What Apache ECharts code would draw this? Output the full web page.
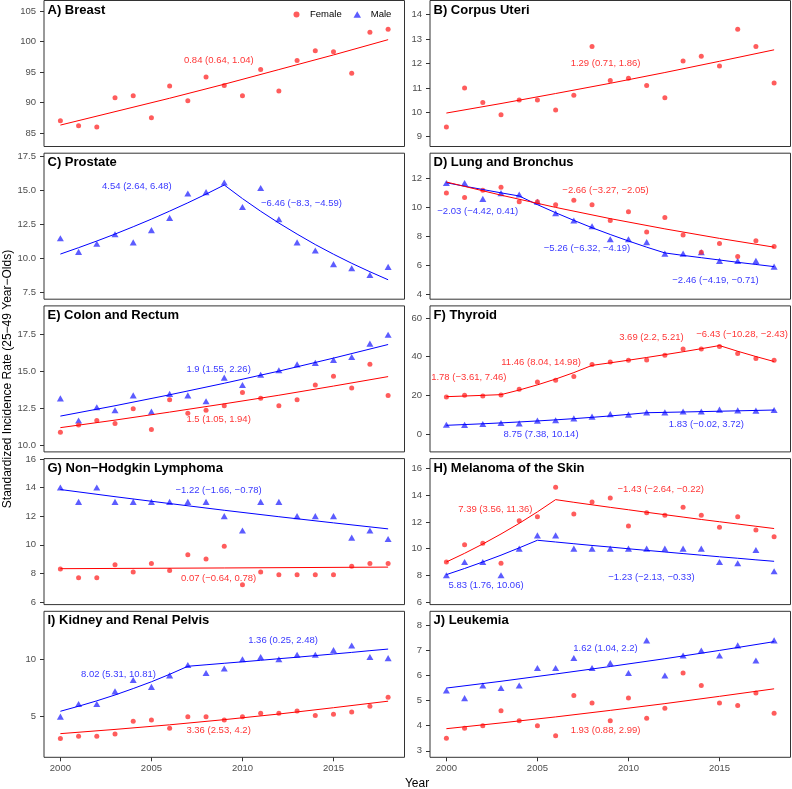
<!DOCTYPE html>
<html>
<head>
<meta charset="utf-8">
<script src="https://cdn.jsdelivr.net/npm/echarts@6/dist/echarts.min.js"></script>
<style>html,body{margin:0;padding:0;background:#fff}#c{width:792px;height:789px}</style>
</head>
<body>
<div id="c"></div>
<script>
// ---------- data ----------
const years = [2000,2001,2002,2003,2004,2005,2006,2007,2008,2009,2010,2011,2012,2013,2014,2015,2016,2017,2018];
const xTicks = [2000,2005,2010,2015];

const breastF   = [87.0,86.2,86.0,90.8,91.1,87.5,92.7,90.3,94.2,92.8,91.1,95.4,91.9,96.9,98.5,98.3,94.8,101.5,102.0];
const uteriF    = [9.4,11.0,10.4,9.9,10.5,10.5,10.1,10.7,12.7,11.3,11.4,11.1,10.6,12.1,12.3,11.9,13.4,12.7,11.2];
const prostateM = [11.5,10.5,11.1,11.8,11.2,12.1,13.0,14.8,14.9,15.6,13.8,15.2,12.9,11.2,10.6,9.6,9.3,8.8,9.4];
const lungF     = [11.0,10.7,11.2,11.4,10.4,10.4,10.2,10.5,10.2,9.1,9.7,8.3,9.3,8.1,6.9,7.5,6.6,7.7,7.3];
const lungM     = [11.7,11.7,10.6,11.0,10.9,10.4,9.6,9.1,8.7,7.8,7.8,7.6,6.8,6.8,6.9,6.3,6.3,6.3,5.9];
const colonF    = [10.9,11.4,11.7,11.5,12.5,11.1,13.1,12.2,12.4,12.7,13.6,13.2,12.7,13.1,14.1,14.7,13.9,15.5,13.4];
const colonM    = [13.2,11.7,12.6,12.4,13.4,12.3,13.5,13.4,13.0,14.6,14.1,14.8,15.1,15.5,15.6,15.8,16.0,16.9,17.5];
const thyroidF  = [19.1,20.0,19.7,20.2,23.1,26.9,27.8,29.8,35.9,37.2,38.1,38.3,40.7,44.0,44.0,45.3,41.7,39.0,38.1];
const thyroidM  = [4.8,4.7,5.2,5.7,5.5,6.9,7.1,8.1,9.0,10.3,10.0,11.2,11.2,11.6,11.6,12.6,12.2,12.1,12.4];
const nhlF      = [8.3,7.7,7.7,8.6,8.1,8.7,8.2,9.3,9.0,9.9,7.2,8.1,7.9,7.9,7.9,7.9,8.5,8.7,8.7];
const nhlM      = [14.0,13.0,14.0,13.0,13.0,13.0,13.0,13.0,13.0,12.0,11.0,13.0,13.0,12.0,12.0,12.0,10.5,11.0,10.4];
const melF      = [9.0,10.3,10.4,8.9,12.1,12.4,14.6,12.6,13.5,13.8,11.7,12.7,12.5,13.1,12.5,11.6,12.4,11.4,10.9];
const melM      = [8.0,9.0,9.0,8.0,10.0,11.0,11.0,10.0,10.0,10.0,10.0,10.0,10.0,10.0,10.0,9.0,8.9,9.9,8.3];
const kidneyF   = [3.1,3.3,3.3,3.5,4.6,4.7,4.0,5.0,5.0,4.7,5.0,5.3,5.3,5.5,5.1,5.2,5.4,5.9,6.7];
const kidneyM   = [5.0,6.1,6.1,7.2,8.2,7.6,8.6,9.5,8.8,9.2,10.0,10.2,10.0,10.4,10.4,10.8,11.2,10.2,10.1];
const leukF     = [3.5,3.9,4.0,4.6,4.2,4.0,3.6,5.2,4.9,4.2,5.1,4.3,4.7,6.1,5.6,4.9,4.8,5.3,4.5];
const leukM     = [5.4,5.1,5.6,5.5,5.6,6.3,6.3,6.7,6.3,6.5,6.1,7.4,6.0,6.8,7.0,6.8,7.2,6.6,7.4];

// fitted joinpoint lines ([year, value] pairs or one value per year)
const breastFitF   = [[2000,86.3],[2003,88.5],[2006,90.7],[2009,93.0],[2012,95.4],[2015,97.8],[2018,100.3]];
const uteriFitF    = [[2000,9.97],[2003,10.36],[2006,10.77],[2009,11.19],[2012,11.63],[2015,12.09],[2018,12.56]];
const prostateFitM = [10.34,10.81,11.30,11.81,12.35,12.91,13.50,14.11,14.75,15.42,14.42,13.49,12.62,11.81,11.04,10.33,9.66,9.04,8.45];
const lungFitF     = [[2000,11.77],[2003,10.86],[2006,10.01],[2009,9.23],[2012,8.52],[2015,7.86],[2018,7.25]];
const lungFitM     = [11.72,11.48,11.25,11.02,10.80,10.20,9.64,9.11,8.60,8.13,7.68,7.25,6.85,6.68,6.52,6.36,6.20,6.05,5.90];
const colonFitF    = [[2000,11.22],[2003,11.73],[2006,12.27],[2009,12.83],[2012,13.41],[2015,14.03],[2018,14.67]];
const colonFitM    = [[2000,12.0],[2003,12.70],[2006,13.44],[2009,14.22],[2012,15.04],[2015,15.92],[2018,16.84]];
const thyroidFitF  = [19.3,19.64,19.99,20.35,22.75,25.42,28.42,31.76,35.5,36.81,38.17,39.58,41.04,42.55,44.12,45.75,42.81,40.06,37.48];
const thyroidFitM  = [4.5,4.88,5.29,5.74,6.23,6.75,7.32,7.94,8.62,9.35,10.14,11.0,11.19,11.38,11.58,11.78,11.98,12.19,12.4];
const nhlFitF      = [[2000,8.33],[2009,8.38],[2018,8.44]];
const nhlFitM      = [[2000,13.86],[2003,13.36],[2006,12.88],[2009,12.41],[2012,11.96],[2015,11.53],[2018,11.11]];
const melFitF      = [9.0,9.65,10.35,11.10,11.90,12.76,13.68,13.48,13.29,13.10,12.92,12.73,12.55,12.37,12.19,12.02,11.85,11.68,11.51];
const melFitM      = [8.05,8.51,9.00,9.51,10.06,10.63,10.50,10.37,10.24,10.12,9.99,9.87,9.75,9.63,9.51,9.39,9.28,9.16,9.05];
const kidneyFitF   = [[2000,3.52],[2003,3.89],[2006,4.29],[2009,4.74],[2012,5.23],[2015,5.78],[2018,6.35]];
const kidneyFitM   = [5.47,5.91,6.38,6.89,7.45,8.04,8.69,9.39,9.52,9.65,9.78,9.91,10.05,10.18,10.32,10.46,10.60,10.75,10.89];
const leukFitF     = [[2000,3.88],[2003,4.11],[2006,4.35],[2009,4.61],[2012,4.88],[2015,5.17],[2018,5.47]];
const leukFitM     = [[2000,5.5],[2003,5.77],[2006,6.06],[2009,6.36],[2012,6.67],[2015,7.0],[2018,7.35]];

// APC annotations: [year, value, text, sex]
const breastNotes   = [[2008.7,96.97,'0.84 (0.64, 1.04)','F']];
const uteriNotes    = [[2008.74,12.0,'1.29 (0.71, 1.86)','F']];
const prostateNotes = [[2004.2,15.32,'4.54 (2.64, 6.48)','M'],[2013.24,14.09,'−6.46 (−8.3, −4.59)','M']];
const lungNotes     = [[2008.74,11.21,'−2.66 (−3.27, −2.05)','F'],[2001.72,9.73,'−2.03 (−4.42, 0.41)','M'],[2007.72,7.19,'−5.26 (−6.32, −4.19)','M'],[2014.78,4.97,'−2.46 (−4.19, −0.71)','M']];
const colonNotes    = [[2008.69,15.14,'1.9 (1.55, 2.26)','M'],[2008.69,11.8,'1.5 (1.05, 1.94)','F']];
const thyroidNotes  = [[2001.23,29.5,'1.78 (−3.61, 7.46)','F'],[2005.2,37.1,'11.46 (8.04, 14.98)','F'],[2011.26,50.0,'3.69 (2.2, 5.21)','F'],[2016.24,51.4,'−6.43 (−10.28, −2.43)','F'],[2005.2,0,'8.75 (7.38, 10.14)','M'],[2014.28,4.83,'1.83 (−0.02, 3.72)','M']];
const nhlNotes      = [[2008.69,13.77,'−1.22 (−1.66, −0.78)','M'],[2008.69,7.67,'0.07 (−0.64, 0.78)','F']];
const melNotes      = [[2002.69,12.98,'7.39 (3.56, 11.36)','F'],[2011.77,14.45,'−1.43 (−2.64, −0.22)','F'],[2002.18,7.25,'5.83 (1.76, 10.06)','M'],[2011.26,7.85,'−1.23 (−2.13, −0.33)','M']];
const kidneyNotes   = [[2012.23,11.63,'1.36 (0.25, 2.48)','M'],[2003.19,8.72,'8.02 (5.31, 10.81)','M'],[2008.69,3.81,'3.36 (2.53, 4.2)','F']];
const leukNotes     = [[2008.74,7.1,'1.62 (1.04, 2.2)','M'],[2008.74,3.8,'1.93 (0.88, 2.99)','F']];

// y tick labels per panel
const breastTicks = [85,90,95,100,105];
const uteriTicks = [9,10,11,12,13,14];
const prostateTicks = [7.5,10,12.5,15,17.5];
const lungTicks = [4,6,8,10,12];
const colonTicks = [10,12.5,15,17.5];
const thyroidTicks = [0,20,40,60];
const nhlTicks = [6,8,10,12,14,16];
const melTicks = [6,8,10,12,14,16];
const kidneyTicks = [5,10];
const leukTicks = [3,4,5,6,7,8];

const titles = ['A) Breast','B) Corpus Uteri','C) Prostate','D) Lung and Bronchus','E) Colon and Rectum','F) Thyroid','G) Non−Hodgkin Lymphoma','H) Melanoma of the Skin','I) Kidney and Renal Pelvis','J) Leukemia'];

// ---------- panel table ----------
const panels = [
  {F:breastF, M:null, fitF:breastFitF, fitM:null, y:[82.79,106.72], ticks:breastTicks, dec:0, notes:breastNotes},
  {F:uteriF, M:null, fitF:uteriFitF, fitM:null, y:[8.6,14.58], ticks:uteriTicks, dec:0, notes:uteriNotes},
  {F:null, M:prostateM, fitF:null, fitM:prostateFitM, y:[7.02,17.76], ticks:prostateTicks, dec:1, notes:prostateNotes},
  {F:lungF, M:lungM, fitF:lungFitF, fitM:lungFitM, y:[3.64,13.77], ticks:lungTicks, dec:0, notes:lungNotes},
  {F:colonF, M:colonM, fitF:colonFitF, fitM:colonFitM, y:[9.58,19.45], ticks:colonTicks, dec:1, notes:colonNotes},
  {F:thyroidF, M:thyroidM, fitF:thyroidFitF, fitM:thyroidFitM, y:[-9.26,66.26], ticks:thyroidTicks, dec:0, notes:thyroidNotes},
  {F:nhlF, M:nhlM, fitF:nhlFitF, fitM:nhlFitM, y:[5.82,16.02], ticks:nhlTicks, dec:0, notes:nhlNotes},
  {F:melF, M:melM, fitF:melFitF, fitM:melFitM, y:[5.80,16.76], ticks:melTicks, dec:0, notes:melNotes},
  {F:kidneyF, M:kidneyM, fitF:kidneyFitF, fitM:kidneyFitM, y:[1.46,14.18], ticks:kidneyTicks, dec:0, notes:kidneyNotes},
  {F:leukF, M:leukM, fitF:leukFitF, fitM:leukFitM, y:[2.74,8.56], ticks:leukTicks, dec:0, notes:leukNotes}
];

// ---------- layout / style ----------
const FONT = 'Liberation Sans, Arial, Helvetica, sans-serif';
const colLeft = [44, 430];
const rowTop = [0.5, 153.2, 305.9, 458.6, 611.3];
const panelW = 360.5, panelH = 146;
const RED_PT = '#FF3333', BLUE_PT = '#3333FF', RED = '#FF0000', BLUE = '#0000FF';
const TRI = 'path://M5,0 L10,8.66 L0,8.66 Z';

const grids = [], xAxes = [], yAxes = [], series = [], titleOpts = [];
const toPairs = arr => arr.map((v, k) => Array.isArray(v) ? v : [years[k], v]);

panels.forEach((p, i) => {
  const col = i % 2, row = Math.floor(i / 2);
  const gx = colLeft[col], gy = rowTop[row];
  const bottomRow = row === 4;
  grids.push({left: gx, top: gy, width: panelW, height: panelH, show: true,
    borderColor: '#333333', borderWidth: 1, backgroundColor: 'transparent', containLabel: false});
  xAxes.push({type: 'value', gridIndex: i, min: 1999.1, max: 2018.9,
    axisLine: {show: false}, splitLine: {show: false},
    axisTick: {show: bottomRow, length: 4, lineStyle: {color: '#333333'}, customValues: xTicks},
    axisLabel: {show: bottomRow, customValues: xTicks, fontSize: 9.5, color: '#4D4D4D', margin: 6, fontFamily: FONT,
      formatter: v => String(v)}});
  yAxes.push({type: 'value', gridIndex: i, min: p.y[0], max: p.y[1],
    axisLine: {show: false}, splitLine: {show: false},
    axisTick: {show: true, length: 4, lineStyle: {color: '#333333'}, customValues: p.ticks},
    axisLabel: {show: true, customValues: p.ticks, fontSize: 9.5, color: '#4D4D4D', margin: 8, fontFamily: FONT,
      formatter: v => p.dec ? Number(v).toFixed(p.dec) : String(v)}});
  titleOpts.push({text: titles[i], left: gx + 3.5, top: gy + 3, padding: 0,
    textStyle: {fontSize: 13, fontWeight: 'bold', color: '#000', fontFamily: FONT}});

  if (p.M) series.push({name: 'Male', type: 'scatter', xAxisIndex: i, yAxisIndex: i,
    symbol: TRI, symbolSize: [7, 6.1], itemStyle: {color: BLUE_PT}, z: 2,
    data: p.M.map((v, k) => [years[k], v])});
  if (p.F) series.push({name: 'Female', type: 'scatter', xAxisIndex: i, yAxisIndex: i,
    symbol: 'circle', symbolSize: 5, itemStyle: {color: RED_PT}, z: 2,
    data: p.F.map((v, k) => [years[k], v])});
  if (p.fitM) series.push({name: 'Male fit', type: 'line', xAxisIndex: i, yAxisIndex: i,
    showSymbol: false, symbol: 'none', lineStyle: {color: BLUE, width: 1}, itemStyle: {color: BLUE}, z: 3,
    data: toPairs(p.fitM)});
  if (p.fitF) series.push({name: 'Female fit', type: 'line', xAxisIndex: i, yAxisIndex: i,
    showSymbol: false, symbol: 'none', lineStyle: {color: RED, width: 1}, itemStyle: {color: RED}, z: 4,
    data: toPairs(p.fitF)});
  series.push({name: 'notes', type: 'scatter', xAxisIndex: i, yAxisIndex: i, symbolSize: 0, silent: true, z: 5,
    clip: false,
    data: p.notes.map(n => ({value: [n[0], n[1]], name: n[2],
      label: {show: true, position: 'inside', formatter: '{b}', fontSize: 9.5, fontFamily: FONT,
        color: n[3] === 'F' ? RED : BLUE, align: 'center', verticalAlign: 'middle'}}))});
});

const chart = echarts.init(document.getElementById('c'), null, {renderer: 'canvas'});
chart.setOption({
  animation: false,
  backgroundColor: '#fff',
  title: titleOpts,
  grid: grids, xAxis: xAxes, yAxis: yAxes, series: series,
  legend: [
    {data: [{name: 'Female', icon: 'circle'}], left: 293.5, top: 9.5, padding: 0,
      itemWidth: 17, itemHeight: 6, symbolKeepAspect: true, selectedMode: false,
      textStyle: {fontSize: 9.5, color: '#000', fontFamily: FONT}},
    {data: [{name: 'Male', icon: TRI}], left: 353.5, top: 9.5, padding: 0,
      itemWidth: 17, itemHeight: 6.5, symbolKeepAspect: true, selectedMode: false,
      textStyle: {fontSize: 9.5, color: '#000', fontFamily: FONT}}
  ],
  graphic: [
    {type: 'text', x: 8, y: 379, rotation: Math.PI / 2,
      style: {text: 'Standardized Incidence Rate (25−49 Year−Olds)', fontSize: 12, fontFamily: FONT, fill: '#000',
        textAlign: 'center', textVerticalAlign: 'middle'}},
    {type: 'text', x: 417, y: 783.5,
      style: {text: 'Year', fontSize: 12, fontFamily: FONT, fill: '#000', textAlign: 'center', textVerticalAlign: 'middle'}}
  ]
});
</script>
</body>
</html>
